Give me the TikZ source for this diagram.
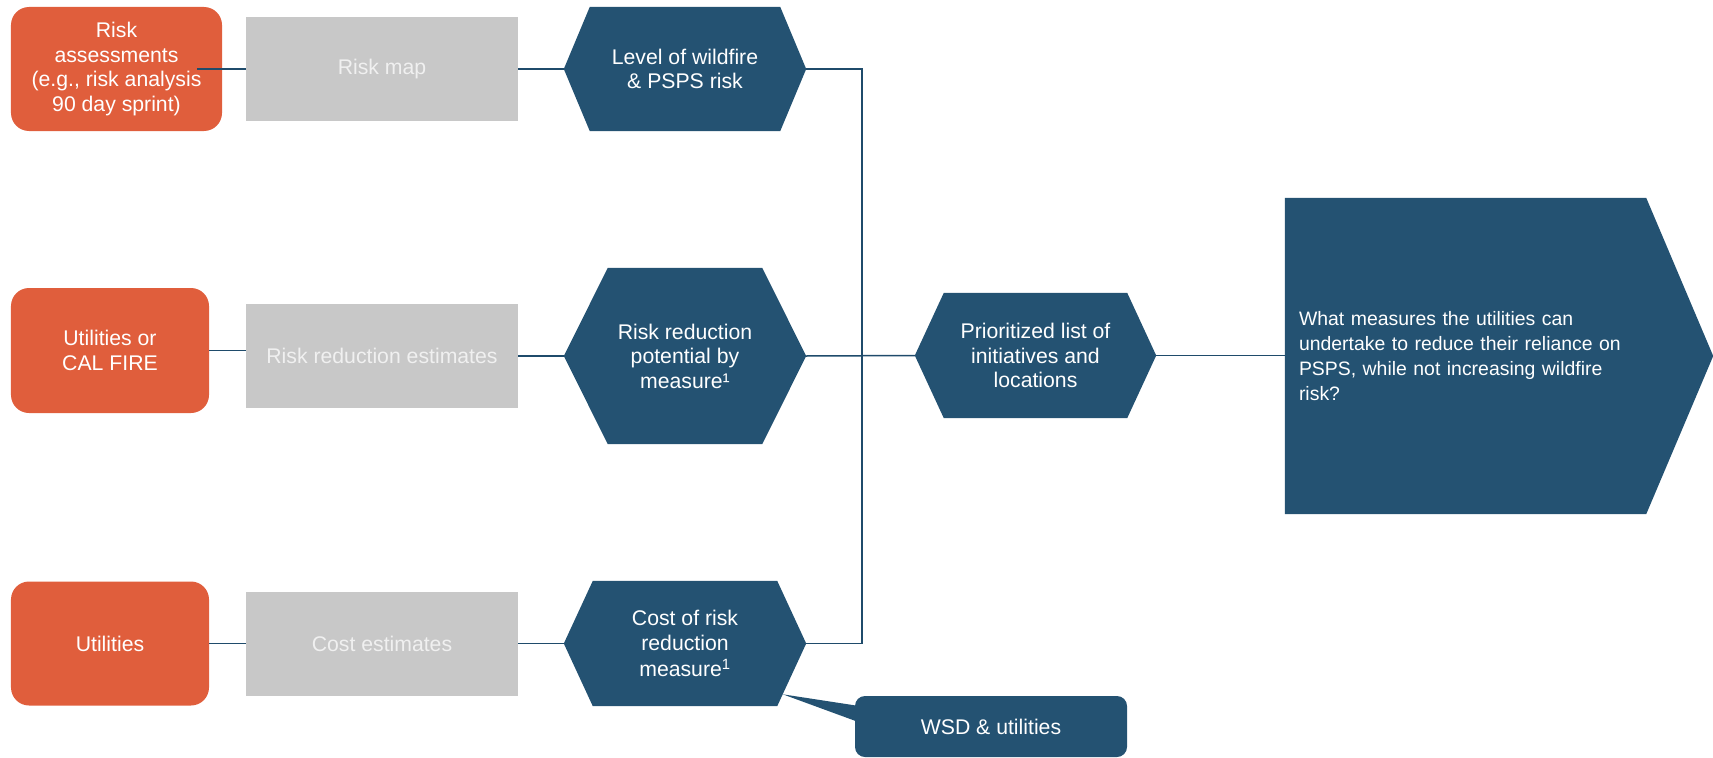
\documentclass[tikz,border=0pt]{standalone}
\usepackage{fontspec}
\setmainfont{Liberation Sans}
\usetikzlibrary{backgrounds,calc}
\definecolor{navy}{HTML}{245272}
\definecolor{orng}{HTML}{E05E3C}
\definecolor{grayb}{HTML}{C8C8C8}
\definecolor{graytext}{HTML}{F0F0F0}
\definecolor{linec}{HTML}{1F4B6B}
\newcommand\hexfill[2]{\fill[navy] (#1.west) -- ([xshift=#2bp]#1.north west) -- ([xshift=-#2bp]#1.north east) -- (#1.east) -- ([xshift=-#2bp]#1.south east) -- ([xshift=#2bp]#1.south west) -- cycle;}
\begin{document}
\begin{tikzpicture}[x=1bp,y=-1bp,
  every node/.style={font=\fontsize{21.3}{24.6}\selectfont, inner sep=0pt, align=center},
  srcbox/.style={fill=orng, rounded corners=18bp, text=white},
  databox/.style={fill=grayb, text=graytext, minimum width=272bp, minimum height=104bp},
  hexbox/.style={text=white, minimum width=242bp},
  conn/.style={draw=linec, line width=1.5bp}]
\useasboundingbox (0,0) rectangle (1713,758);

% sources
\node[srcbox, minimum width=211bp, minimum height=124bp] (o1) at (116.5,69) {Risk\\assessments\\(e.g., risk analysis\\90 day sprint)};
\node[srcbox, minimum width=198bp, minimum height=125bp] (o2) at (110,350.5) {Utilities or\\CAL FIRE};
\node[srcbox, minimum width=198bp, minimum height=124bp] (o3) at (110,643.5) {Utilities};

% data
\node[databox, minimum height=103bp] (g1) at (382,69) {Risk map};
\node[databox] (g2) at (382,356) {Risk reduction estimates};
\node[databox] (g3) at (382,643.5) {Cost estimates};

% hexagons
\node[hexbox, minimum height=124bp] (h1) at (685,69) {Level of wildfire\\\& PSPS risk};
\node[hexbox, minimum height=176bp] (h2) at (685,356) {Risk reduction\\potential by\\measure¹};
\node[hexbox, minimum height=125bp] (h3) at (685,643.5) {Cost of risk\\reduction\\[2bp]measure\textsuperscript{1}};
\node[hexbox, minimum width=241bp, minimum height=125bp] (h4) at (1035.5,355.5) {Prioritized list of\\initiatives and\\locations};

% question
\node[text=white, font=\fontsize{19.5}{25}\selectfont, align=left, text width=400bp, inner xsep=14bp, minimum height=316bp] (q) at (1499,356) {What measures the utilities can\\undertake to reduce their reliance on\\PSPS, while not increasing wildfire\\risk?};

% callout
\node[fill=navy, text=white, rounded corners=10bp, minimum width=272bp, minimum height=61bp] (w) at (991,726.5) {WSD \& utilities};

\begin{scope}[on background layer]
  \hexfill{h1}{26}
  \hexfill{h2}{44}
  \hexfill{h3}{29}
  \hexfill{h4}{29}
  \fill[navy] (q.north west) -- ([xshift=-67bp]q.north east) -- (q.east) -- ([xshift=-67bp]q.south east) -- (q.south west) -- cycle;
  \coordinate (tip) at ($(h3.east)!0.81!([xshift=-29bp]h3.south east)$);
  \fill[navy] (tip) -- ([xshift=3bp,yshift=-10bp]w.north west) -- ([xshift=3bp,yshift=-26bp]w.north west) -- cycle;
\end{scope}

% connectors
\coordinate (vx) at (862,0);
\coordinate (o1s) at (197,69);
\draw[conn] (o1s) -- (g1.west);
\draw[conn] (g1.east) -- (h1.west);
\draw[conn] (o2.east) -- (o2.east -| g2.west);
\draw[conn] (g2.east) -- (h2.west);
\draw[conn] (o3.east) -- (g3.west);
\draw[conn] (g3.east) -- (h3.west);
\draw[conn] (h1.east) -- (h1.east -| vx) |- (h3.east);
\draw[conn] (h2.east) -- (h4.west);
\draw[conn] (h4.east) -- (h4.east -| q.west);
\end{tikzpicture}
\end{document}
